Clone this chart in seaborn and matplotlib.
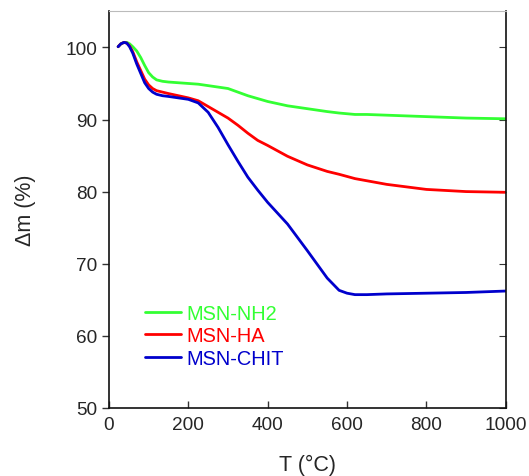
import matplotlib.pyplot as plt
import pandas as pd
import seaborn as sns

sns.set_style("ticks")
plt.rcParams['font.family'] = ['Liberation Sans', 'DejaVu Sans']

temp = [23, 30, 38, 45, 52, 60, 70, 80, 90, 100, 110, 120, 135, 150, 175, 200,
        225, 250, 275, 300, 325, 350, 375, 400, 450, 500, 550, 580, 600, 620,
        650, 700, 800, 900, 1000]

nh2 = [100.1, 100.5, 100.7, 100.7, 100.5, 100.1, 99.5, 98.6, 97.5, 96.5, 95.9,
       95.5, 95.3, 95.2, 95.1, 95.0, 94.9, 94.7, 94.5, 94.3, 93.8, 93.3, 92.9,
       92.5, 91.9, 91.5, 91.1, 90.9, 90.8, 90.7, 90.7, 90.6, 90.4, 90.2, 90.1]

ha = [100.1, 100.5, 100.7, 100.6, 100.2, 99.4, 98.0, 96.8, 95.6, 94.8, 94.3,
      94.0, 93.8, 93.6, 93.3, 93.0, 92.6, 91.8, 91.0, 90.2, 89.2, 88.1, 87.1,
      86.4, 84.9, 83.7, 82.8, 82.4, 82.1, 81.8, 81.5, 81.0, 80.3, 80.0, 79.9]

chit = [100.1, 100.5, 100.7, 100.6, 100.1, 99.2, 97.7, 96.4, 95.1, 94.3, 93.8,
        93.5, 93.3, 93.2, 93.0, 92.8, 92.3, 91.0, 88.9, 86.5, 84.2, 82.0, 80.2,
        78.5, 75.5, 71.8, 68.0, 66.3, 65.9, 65.7, 65.7, 65.8, 65.9, 66.0, 66.2]

labels = ['MSN-NH2', 'MSN-HA', 'MSN-CHIT']
colors = ['#33ff33', '#ff0000', '#0000cc']

df = pd.DataFrame({'T': temp * 3,
                   'dm': nh2 + ha + chit,
                   'sample': sum([[lab] * len(temp) for lab in labels], [])})

fig, ax = plt.subplots(figsize=(5.29, 4.77), dpi=100)
fig.subplots_adjust(left=0.206, right=0.956, top=0.974, bottom=0.143)

sns.lineplot(data=df, x='T', y='dm', hue='sample', palette=colors,
             linewidth=2, ax=ax, legend=False)

ax.set_xlim(0, 1000)
ax.set_ylim(50, 105)
ax.set_xticks(range(0, 1001, 200))
ax.set_yticks(range(50, 101, 10))
ax.tick_params(axis='both', labelsize=13.7, length=5, width=1,
               color='#333333')
ax.tick_params(axis='x', direction='in', pad=6)
ax.tick_params(axis='y', direction='out')
ax.set_xlabel('T (°C)', fontsize=15.5, labelpad=15)
ax.set_ylabel('Δm (%)', fontsize=15.5, labelpad=21)

for side in ['left', 'bottom', 'right']:
    ax.spines[side].set_color('#111111')
    ax.spines[side].set_linewidth(1.2)
ax.spines['top'].set_color('#bbbbbb')
ax.spines['top'].set_linewidth(0.8)

# inward ticks on the right spine
rax = ax.secondary_yaxis('right')
rax.set_yticks(range(50, 101, 10))
rax.tick_params(direction='in', length=5, labelright=False, color='#333333')
rax.spines['right'].set_visible(False)

handles = [plt.Line2D([], [], color=c, linewidth=2) for c in colors]
leg = ax.legend(handles, labels, loc='center left',
                bbox_to_anchor=(0.045, 0.182), frameon=False, fontsize=14.4,
                handlelength=1.8, handletextpad=0.3, labelspacing=0.17)
for txt, c in zip(leg.get_texts(), colors):
    txt.set_color(c)

fig.savefig('out.png', dpi=100)
